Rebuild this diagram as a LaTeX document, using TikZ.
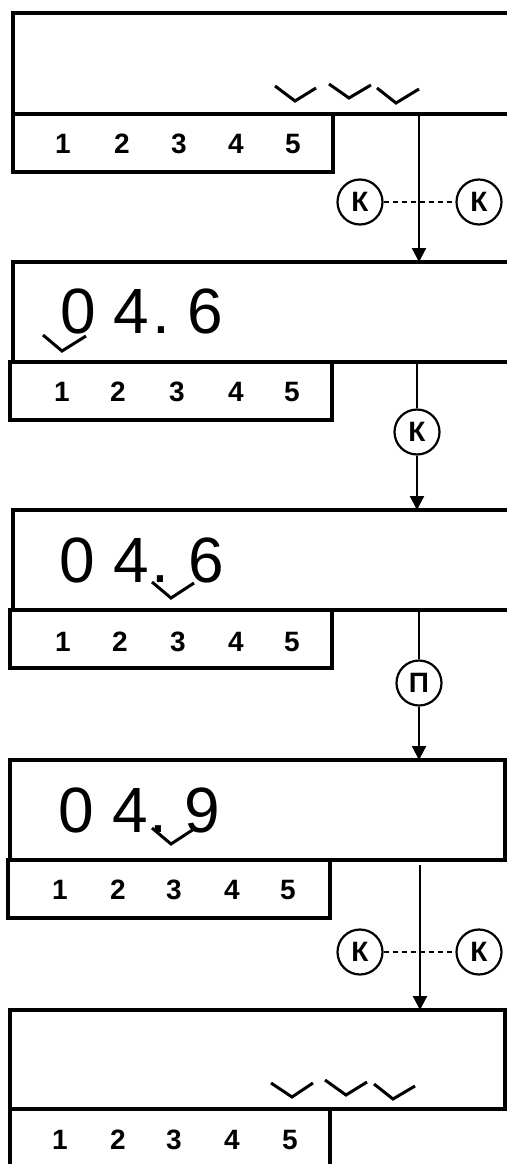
\documentclass[tikz,border=0pt]{standalone}
\usepackage{fontspec}
\setmainfont{Liberation Sans}
\usetikzlibrary{arrows.meta}
\begin{document}
\begin{tikzpicture}[x=1pt,y=-1pt,
  frameline/.style={line width=4pt},
  boxline/.style={line width=3.2pt},
  tick/.style={line width=3pt},
  conn/.style={line width=2.2pt},
  arr/.style={conn,-{Triangle[width=14pt,length=14pt]}},
  circ/.style={circle,draw,line width=2.2pt,minimum size=45pt,inner sep=0pt,font=\fontsize{28}{28}\selectfont\bfseries},
  num/.style={font=\fontsize{28}{28}\selectfont\bfseries,inner sep=0pt},
  big/.style={font=\fontsize{64}{64}\selectfont,inner sep=0pt,anchor=base},
  dashconn/.style={line width=1.3pt,dash pattern=on 5pt off 4pt}]
\useasboundingbox (0,0) rectangle (506,1164);

% ---------- panel 1
\draw[frameline] (512,13) -- (13,13) -- (13,114) -- (512,114);
\draw[boxline] (13,114) rectangle (333,172);
\foreach \x [count=\k] in {63,122,179,236,293}
  \node[num] (pa\k) at (\x,144) {\k};
\draw[tick] (275,86) -- (295,101) -- (316,88);
\draw[tick] (329,84) -- (349,98) -- (371,85);
\draw[tick] (377,88) -- (396,103) -- (419,89);

% ---------- panel 2
\draw[frameline] (512,262) -- (13,262) -- (13,362) -- (512,362);
\draw[boxline] (10,362) rectangle (332,420);
\foreach \x [count=\k] in {62,118,177,236,292}
  \node[num] (pb\k) at (\x,392) {\k};
\node[big] (b0) at (78.5,333) {0};
\node[big] (b4) at (131,333) {4};
\node[big] (bd) at (161,333) {.};
\node[big] (b6) at (205,333) {6};
\draw[tick] (43,335) -- (62,351) -- (86,336);

% ---------- panel 3
\draw[frameline] (512,510) -- (13,510) -- (13,610) -- (512,610);
\draw[boxline] (10,610) rectangle (332,668);
\foreach \x [count=\k] in {63,120,178,236,292}
  \node[num] (pc\k) at (\x,642) {\k};
\node[big] (c0) at (77.5,582) {0};
\node[big] (c4) at (131,582) {4};
\node[big] (cd) at (160,582) {.};
\node[big] (c6) at (206,582) {6};
\draw[tick] (152,582) -- (171,598) -- (194,583);

% ---------- panel 4
\draw[frameline] (10,760) rectangle (505,860);
\draw[boxline] (8,860) rectangle (330,918);
\foreach \x [count=\k] in {60,118,174,232,288}
  \node[num] (pd\k) at (\x,890) {\k};
\node[big] (d0) at (76,832) {0};
\node[big] (d4) at (130,832) {4};
\node[big] (dd) at (158.5,832) {.};
\node[big] (d9) at (202.5,832) {9};
\draw[tick] (152,828) -- (171,844) -- (194,829);

% ---------- panel 5
\draw[frameline] (10,1010) rectangle (505,1109);
\draw[boxline] (10,1109) -- (10,1170) (330,1109) -- (330,1170) (10,1109) -- (330,1109);
\foreach \x [count=\k] in {60,118,174,232,290}
  \node[num] (pe\k) at (\x,1140) {\k};
\draw[tick] (271,1083) -- (292,1097) -- (313,1083);
\draw[tick] (325,1080) -- (346,1095) -- (367,1082);
\draw[tick] (374,1084) -- (393,1099) -- (415,1086);

% ---------- transitions
\coordinate (s1) at (419,114);
\coordinate (e1) at (419,262);
\node[circ] (k1a) at (360,202) {К};
\node[circ] (k1b) at (479,202) {К};
\draw[dashconn] (k1a) -- (k1b);
\draw[arr] (s1) -- (e1);

\coordinate (s2) at (417,362);
\coordinate (e2) at (417,510);
\node[circ] (k2) at (417,432) {К};
\draw[conn] (s2) -- (k2);
\draw[arr] (k2) -- (e2);

\coordinate (s3) at (419,610);
\coordinate (e3) at (419,760);
\node[circ] (p3) at (419,683) {П};
\draw[conn] (s3) -- (p3);
\draw[arr] (p3) -- (e3);

\coordinate (s4) at (420,865);
\coordinate (e4) at (420,1010);
\node[circ] (k4a) at (360,952) {К};
\node[circ] (k4b) at (479,952) {К};
\draw[dashconn] (k4a) -- (k4b);
\draw[arr] (s4) -- (e4);
\end{tikzpicture}
\end{document}
